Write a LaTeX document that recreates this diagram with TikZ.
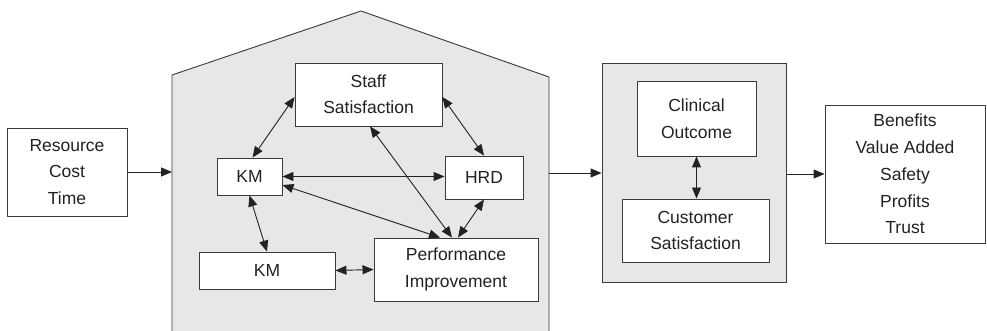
\documentclass[tikz,border=0pt]{standalone}
\usepackage{fontspec}
\setmainfont{Liberation Sans}
\usetikzlibrary{arrows.meta,calc}
\definecolor{ink}{HTML}{222222}
\definecolor{edge}{HTML}{3A3A3A}
\definecolor{panel}{HTML}{E6E7E8}
\tikzset{
  box/.style={draw=edge, line width=0.9pt, fill=white, rectangle, inner sep=0pt,
    text=ink, align=center, font=\fontsize{17.5}{26.5}\selectfont},
  tip/.style={-{Triangle[length=11pt,width=9pt]}, draw=ink, line width=0.9pt},
  twoway/.style={{Triangle[length=11pt,width=9pt]}-{Triangle[length=11pt,width=9pt]}, draw=ink, line width=0.9pt},
}
\begin{document}
\begin{tikzpicture}[x=1pt,y=-1pt]
\useasboundingbox (0,0) rectangle (987,331);
\fill[white] (0,0) rectangle (987,331);

% house-shaped panel
\begin{scope}
\clip (0,0) rectangle (987,331);
\filldraw[fill=panel, draw=edge, line width=0.9pt]
  (172,340) -- (172,75) -- (361,11) -- (549,77) -- (549,340);
\end{scope}
\coordinate (houseL) at (172,172);
\coordinate (houseR) at (549,173);

% right-hand panel
\node[box, fill=panel, minimum width=184pt, minimum height=219pt] (rbox) at (694,172.5) {};

% boxes
\node[box, minimum width=120pt, minimum height=88pt] (res) at (67,172) {Resource\\Cost\\Time};
\node[box, minimum width=147pt, minimum height=63pt] (staff) at (368.5,94.5) {Staff\\Satisfaction};
\node[box, minimum width=65pt, minimum height=37pt] (km1) at (249.5,176.5) {KM};
\node[box, minimum width=78pt, minimum height=43pt] (hrd) at (484,177.5) {HRD};
\node[box, minimum width=136pt, minimum height=37pt] (km2) at (267,270.5) {KM};
\node[box, minimum width=164pt, minimum height=63pt] (perf) at (456,269.5) {Performance\\Improvement};
\node[box, minimum width=119pt, minimum height=75pt] (clin) at (696.5,118.5) {Clinical\\Outcome};
\node[box, minimum width=147pt, minimum height=63pt] (cust) at (695.5,230.5) {Customer\\Satisfaction};
\node[box, minimum width=160pt, minimum height=138pt, font=\fontsize{17.5}{26.75}\selectfont] (ben) at (905,174) {Benefits\\Value Added\\Safety\\Profits\\Trust};

% flow between stages
\draw[tip] (res.east |- houseL) -- (houseL);
\draw[tip] (houseR) -- (houseR -| rbox.west);
\draw[tip] (rbox.east |- ben.west) -- (ben.west);

% links inside the house
\draw[twoway] ([xshift=3pt]km1.north) -- ([yshift=-2.5pt]staff.west);
\draw[twoway] ([yshift=-2.5pt]staff.east) -- (hrd.north);
\draw[twoway] (km1.east) -- (km1.east -| hrd.west);
\draw[twoway] ([yshift=-8.5pt]km1.east) -- ([xshift=-16pt]perf.north);
\draw[twoway] ([xshift=1.5pt]staff.south) -- ([xshift=-4pt]perf.north);
\draw[twoway] (hrd.south) -- ([xshift=2pt]perf.north);
\draw[twoway] (km1.south) -- (km2.north);
\draw[twoway] (km2.east) -- (perf.west);

% link inside the right panel
\draw[twoway] (clin.south) -- (clin.south |- cust.north);
\end{tikzpicture}
\end{document}
